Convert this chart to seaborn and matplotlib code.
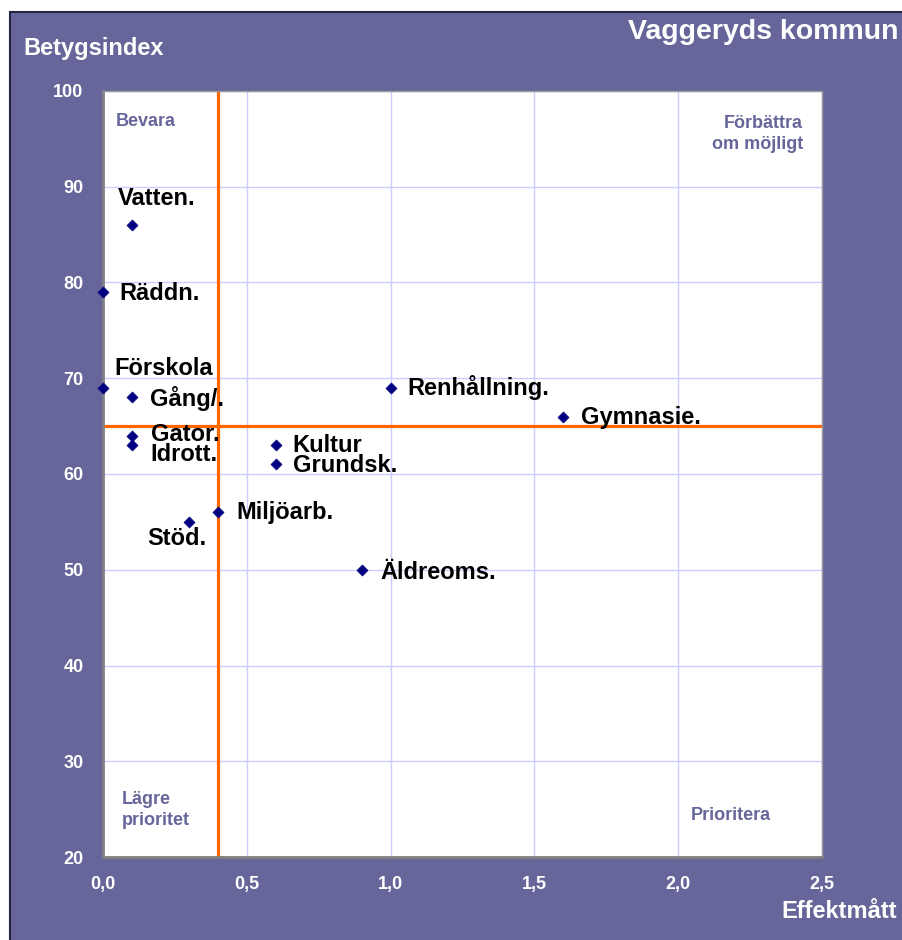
import pandas as pd
import matplotlib.pyplot as plt
import seaborn as sns
from matplotlib.patches import Rectangle

# data
names = ['Vatten.', 'Räddn.', 'Förskola', 'Gång/.', 'Gator.', 'Idrott.', 'Kultur',
         'Grundsk.', 'Miljöarb.', 'Stöd.', 'Äldreoms.', 'Renhållning.', 'Gymnasie.']
effekt = [0.1, 0.0, 0.0, 0.1, 0.1, 0.1, 0.6, 0.6, 0.4, 0.3, 0.9, 1.0, 1.6]
betyg = [86, 79, 69, 68, 64, 63, 63, 61, 56, 55, 50, 69, 66]
x_ticks = [0.0, 0.5, 1.0, 1.5, 2.0, 2.5]
x_ticklabels = ['0,0', '0,5', '1,0', '1,5', '2,0', '2,5']
y_ticks = [20, 30, 40, 50, 60, 70, 80, 90, 100]
x_split = 0.4
y_split = 65

df = pd.DataFrame({'Effektmått': effekt, 'Betygsindex': betyg, 'Namn': names})

# label offsets in pixels (dx, dy, ha)
offsets = {
    'Vatten.': (-14, 27, 'left'),
    'Räddn.': (16, -1, 'left'),
    'Förskola': (11, 19, 'left'),
    'Gång/.': (18, -1, 'left'),
    'Gator.': (19, 1, 'left'),
    'Idrott.': (19, -9, 'left'),
    'Kultur': (17, 0, 'left'),
    'Grundsk.': (17, -1, 'left'),
    'Miljöarb.': (18, 0, 'left'),
    'Stöd.': (-12, -17, 'center'),
    'Äldreoms.': (19, -3, 'left'),
    'Renhållning.': (17, 0, 'left'),
    'Gymnasie.': (18, -1, 'left'),
}

purple = '#66669a'
sns.set_theme(style='white')
plt.rcParams['font.family'] = ['Liberation Sans', 'DejaVu Sans']
plt.rcParams['font.weight'] = 'bold'

fig = plt.figure(figsize=(9.02, 9.40), dpi=100)
fig.patch.set_facecolor('white')
bg = Rectangle((10 / 902, -0.01), 1.0, 1 - 10 / 940 + 0.01 - 2 / 940,
               transform=fig.transFigure, facecolor=purple,
               edgecolor='#222244', linewidth=1.5, zorder=-10)
fig.add_artist(bg)

ax = fig.add_axes([103 / 902, 1 - 857 / 940, 719 / 902, 766 / 940])
ax.set_zorder(1)
ax.set_facecolor('white')

ax.set_xlim(0, 2.5)
ax.set_ylim(20, 100)
ax.set_xticks(x_ticks)
ax.set_xticklabels(x_ticklabels)
ax.set_yticks(y_ticks)
ax.grid(True, color='#ccccff', linewidth=1)
ax.set_axisbelow(True)

ax.axvline(x_split, color='#ff6600', linewidth=2.3, zorder=2)
ax.axhline(y_split, color='#ff6600', linewidth=2.3, zorder=2)

sns.scatterplot(data=df, x='Effektmått', y='Betygsindex', marker='D', s=32,
                color='#000080', edgecolor='#000080', ax=ax, zorder=3, clip_on=False)

for n, x, y in zip(names, effekt, betyg):
    dx, dy, ha = offsets[n]
    ax.annotate(n, (x, y), xytext=(dx, dy), textcoords='offset pixels',
                ha=ha, va='center', fontsize=17, fontweight='bold', color='black')

for s in ax.spines.values():
    s.set_color('#999999')
    s.set_linewidth(1)
ax.spines['left'].set_color('#808080')
ax.spines['left'].set_linewidth(2)
ax.spines['bottom'].set_color('#808080')
ax.spines['bottom'].set_linewidth(2)

ax.tick_params(axis='y', length=4, color='#555555', direction='out', pad=10,
               labelsize=13, labelcolor='white')
ax.tick_params(axis='x', length=0, pad=14, labelsize=13, labelcolor='white')
for lab in ax.get_xticklabels() + ax.get_yticklabels():
    lab.set_fontweight('bold')
ax.set_xlabel('')
ax.set_ylabel('')

# quadrant texts
qkw = dict(fontsize=13, fontweight='bold', color=purple, transform=ax.transAxes, linespacing=1.35)
ax.text(13 / 719, 1 - 31 / 766, 'Bevara', ha='left', va='center', **qkw)
ax.text(700 / 719, 1 - 43 / 766, 'Förbättra\nom möjligt', ha='right', va='center', **qkw)
ax.text(19 / 719, 1 - 719 / 766, 'Lägre\nprioritet', ha='left', va='center', **qkw)
ax.text(588 / 719, 1 - 724 / 766, 'Prioritera', ha='left', va='center', **qkw)

fig.text(23 / 902, 1 - 48 / 940, 'Betygsindex', ha='left', va='center',
         fontsize=17, fontweight='bold', color='white')
fig.text(898 / 902, 1 - 32 / 940, 'Vaggeryds kommun', ha='right', va='center',
         fontsize=20.5, fontweight='bold', color='white')
fig.text(897 / 902, 1 - 912 / 940, 'Effektmått', ha='right', va='center',
         fontsize=17, fontweight='bold', color='white')

fig.savefig('out.png', dpi=100, facecolor=fig.get_facecolor())
